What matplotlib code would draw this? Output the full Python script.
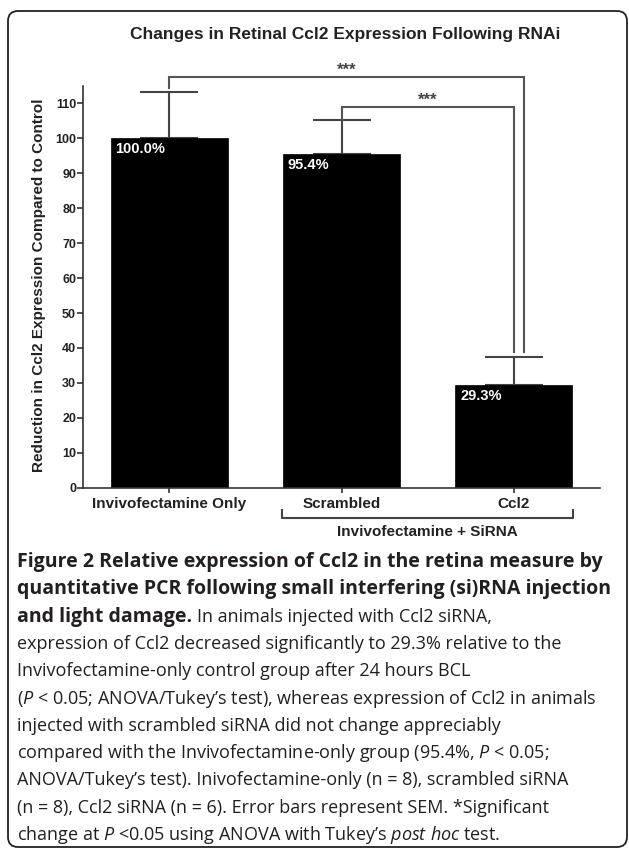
import numpy as np
import matplotlib
matplotlib.use("Agg")
import matplotlib.pyplot as plt
from matplotlib.patches import FancyBboxPatch
from matplotlib.transforms import IdentityTransform

# --- data ---
groups = ["Invivofectamine Only", "Scrambled", "Ccl2"]
expr = [100.0, 95.4, 29.3]
sem = [13.2, 10.0, 8.0]
pct_labels = ["100.0%", "95.4%", "29.3%"]
yticks = list(range(0, 111, 10))

# caption: each line is a list of (text, bold?) pieces
caption_lines = [
    [("Figure 2 Relative expression of Ccl2 in the retina measure by", True)],
    [("quantitative PCR following small interfering (si)RNA injection", True)],
    [("and light damage.", True), ("In animals injected with Ccl2 siRNA,", False)],
    [("expression of Ccl2 decreased significantly to 29.3% relative to the", False)],
    [("Invivofectamine-only control group after 24 hours BCL", False)],
    [(r"($\mathit{P}$ < 0.05; ANOVA/Tukey’s test), whereas expression of Ccl2 in animals", False)],
    [("injected with scrambled siRNA did not change appreciably", False)],
    [(r"compared with the Invivofectamine-only group (95.4%, $\mathit{P}$ < 0.05;", False)],
    [("ANOVA/Tukey’s test). Inivofectamine-only (n = 8), scrambled siRNA", False)],
    [("(n = 8), Ccl2 siRNA (n = 6). Error bars represent SEM. *Significant", False)],
    [(r"change at $\mathit{P}$ <0.05 using ANOVA with Tukey’s $\mathit{post\ hoc}$ test.", False)],
]

plt.rcParams["font.family"] = ["Liberation Sans", "DejaVu Sans"]
plt.rcParams["mathtext.fontset"] = "custom"
plt.rcParams["mathtext.rm"] = "Open Sans"
plt.rcParams["mathtext.it"] = "Open Sans:italic"
plt.rcParams["mathtext.bf"] = "Open Sans:bold"

W, H = 629, 849
fig = plt.figure(figsize=(W / 100, H / 100), dpi=100)
txt = "#222222"

# axes placed in pixel terms
ax = fig.add_axes([83 / W, 1 - 487.7 / H, (600 - 83) / W, (487.7 - 86) / H])
x = np.arange(len(groups))
ax.bar(x, expr, width=0.68, color="black", edgecolor="black", linewidth=0.5, zorder=2)
ax.errorbar(x, expr, yerr=[np.zeros(len(x)), sem], fmt="none", ecolor="#444444",
            elinewidth=1.5, capsize=21, capthick=1.5, zorder=1)

for xi, v, lab in zip(x, expr, pct_labels):
    ax.annotate(lab, xy=(xi - 0.34, v), xytext=(3.5, -7.8), textcoords="offset points",
                ha="left", va="center", color="white", fontsize=10.5, fontweight="bold")

ax.set_xlim(-0.5, 2.5)
ax.set_ylim(0, 115)
ax.set_yticks(yticks)
ax.set_xticks(x)
ax.set_xticklabels(groups)
for s in ["top", "right"]:
    ax.spines[s].set_visible(False)
for s in ["left", "bottom"]:
    ax.spines[s].set_linewidth(1.2)
    ax.spines[s].set_color("#333333")
ax.tick_params(axis="y", length=4, width=1.2, color="#333333", pad=1,
               labelsize=9, labelcolor=txt)
ax.tick_params(axis="x", length=3.5, width=1.2, color="#333333", pad=3,
               labelsize=11, labelcolor=txt)
for lab in ax.get_xticklabels() + ax.get_yticklabels():
    lab.set_fontweight("bold")


# significance brackets
def bracket(x0, x1, ytop, y0, y1, stars):
    ax.plot([x0, x0, x1, x1], [y0, ytop, ytop, y1], color="#555555", lw=1.5,
            clip_on=False, solid_joinstyle="miter")
    ax.text((x0 + x1) / 2, ytop + 0.6, stars, ha="center", va="baseline",
            fontsize=12, fontweight="bold", color="#444444", clip_on=False)


bracket(0, 2.06, 117.5, 114.3, 38.8, "***")
bracket(1, 2, 109.05, 105.6, 38.8, "***")

# group bracket under the siRNA bars
ax.plot([0.656, 0.656, 2.341, 2.341], [-6.4, -8.7, -8.7, -6.4], color="#444444",
        lw=1.5, clip_on=False)
ax.text(1.4985, -12.7, "Invivofectamine + SiRNA", ha="center", va="center",
        fontsize=11, fontweight="bold", color=txt, clip_on=False)

fig.text(345 / W, 1 - 35 / H, "Changes in Retinal Ccl2 Expression Following RNAi",
         ha="center", va="center", fontsize=12.5, fontweight="bold", color=txt)
fig.text(39 / W, 1 - 285 / H, "Reduction in Ccl2 Expression Compared to Control",
         rotation=90, ha="center", va="center", fontsize=11, fontweight="bold", color=txt)

# caption, pieces laid out one after another
renderer = fig.canvas.get_renderer()
for i, pieces in enumerate(caption_lines):
    xpos = 17
    ypos = 1 - (562 + i * 27.3) / H
    for text, bold in pieces:
        t = fig.text(xpos / W, ypos, text, ha="left", va="center",
                     family="Open Sans", fontsize=14.0 if bold else 13.0,
                     color="#231f20", fontweight="bold" if bold else "normal")
        xpos += t.get_window_extent(renderer).width + 4.5

# rounded frame around the whole figure
frame = FancyBboxPatch((8, H - 847), 627 - 8, 847 - 11,
                       boxstyle="round,pad=0,rounding_size=10",
                       transform=IdentityTransform(), fill=False,
                       edgecolor="#222222", linewidth=1.3)
fig.add_artist(frame)

fig.savefig("out.png", dpi=100)
